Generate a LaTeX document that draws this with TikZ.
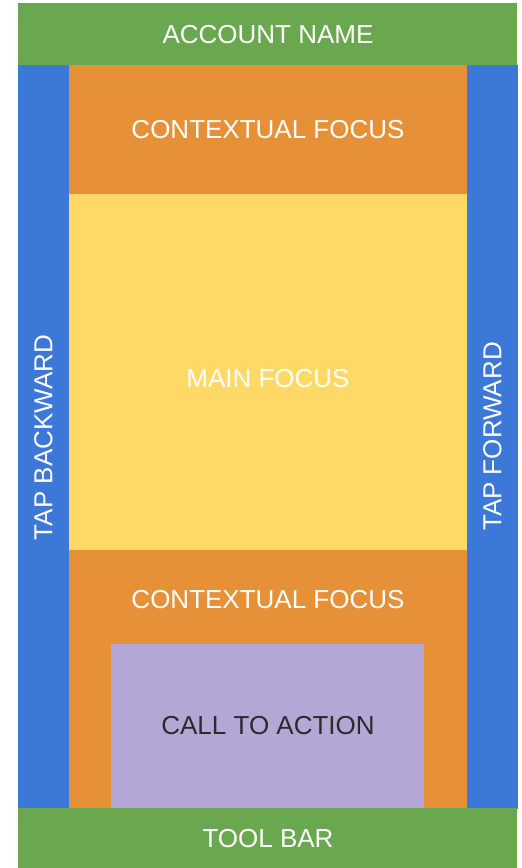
\documentclass[tikz,border=0pt]{standalone}
\usepackage{fontspec}
\setmainfont{Liberation Sans}
\definecolor{barGreen}{HTML}{6AA84F}
\definecolor{tapBlue}{HTML}{3C78D8}
\definecolor{ctxOrange}{HTML}{E69138}
\definecolor{mainYellow}{HTML}{FFD966}
\definecolor{ctaPurple}{HTML}{B4A7D6}
\definecolor{ctaText}{HTML}{2B2B2B}
\tikzset{
  zone/.style={inner sep=0pt, outer sep=0pt},
  lbl/.style={text=white, font=\fontsize{26}{31}\selectfont, inner sep=0pt},
  darklbl/.style={lbl, text=ctaText},
}
\begin{document}
\begin{tikzpicture}[x=1pt, y=-1pt]
  \useasboundingbox (0,0) rectangle (522,868);
  % layout blocks
  \fill[barGreen]   (18,3)    rectangle (517,65);
  \fill[tapBlue]    (18,65)   rectangle (69,809);
  \fill[tapBlue]    (467,65)  rectangle (518,809);
  \fill[ctxOrange]  (69,65)   rectangle (467,194);
  \fill[mainYellow] (69,194)  rectangle (467,550);
  \fill[ctxOrange]  (69,550)  rectangle (467,808);
  \fill[ctaPurple]  (111,644) rectangle (424,808);
  \fill[barGreen]   (18,808)  rectangle (517,868);
  % labels
  \node[lbl] (account) at (268,34.5) {ACCOUNT NAME};
  \node[lbl] (ctxtop) at (268,129.5) {CONTEXTUAL FOCUS};
  \node[lbl] (mainf) at (268,378.5) {MAIN FOCUS};
  \node[lbl] (ctxbot) at (268,599.5) {CONTEXTUAL FOCUS};
  \node[darklbl] (cta) at (268,725.5) {CALL TO ACTION};
  \node[lbl] (toolbar) at (268,839) {TOOL BAR};
  \node[lbl, rotate=90] (back) at (43.5,437.5) {TAP BACKWARD};
  \node[lbl, rotate=90] (fwd) at (492.5,436.5) {TAP FORWARD};
\end{tikzpicture}
\end{document}
